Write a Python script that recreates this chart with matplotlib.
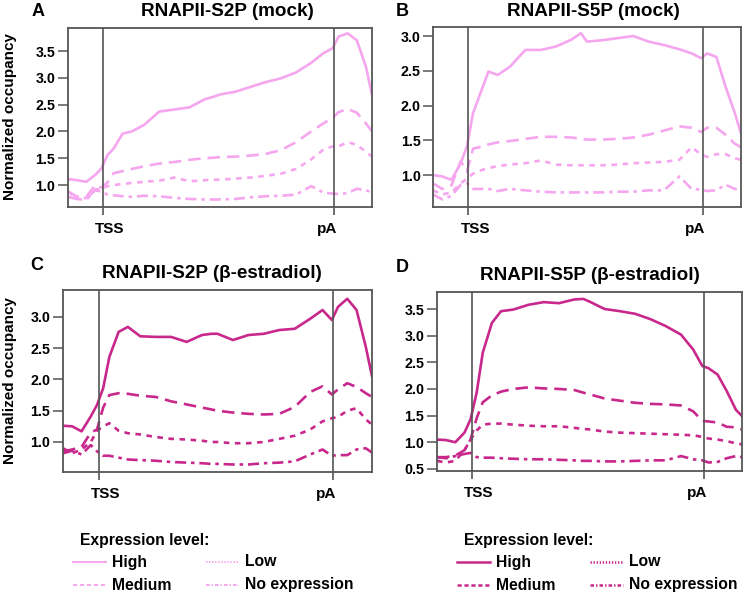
import matplotlib

matplotlib.use("Agg")
import matplotlib.pyplot as plt
from matplotlib.lines import Line2D
from matplotlib.transforms import blended_transform_factory

plt.rcParams["font.family"] = ["Liberation Sans", "DejaVu Sans"]
plt.rcParams["lines.scale_dashes"] = False

W, H = 747, 596
MOCK, ESTR = "#F5A6EE", "#C8288C"
GREY = "#555555"

# position along the metagene, in % of the plotted width
pos = [0, 3, 6, 9, 11, 13, 15, 18, 21, 25, 30, 35, 40, 45, 48, 50, 55, 60, 65, 70, 75, 80, 84, 87, 89, 92, 95, 98, 100]
TSS, PA = 11.5, 87.5
levels = ["High", "Medium", "Low", "No expression"]

# A: RNAPII-S2P (mock)
s2p_mock_high = [1.11, 1.09, 1.06, 1.19, 1.31, 1.56, 1.68, 1.96, 2.0, 2.12, 2.37, 2.41, 2.45, 2.60, 2.65, 2.69, 2.74,
                 2.83, 2.92, 2.99, 3.10, 3.28, 3.46, 3.55, 3.77, 3.83, 3.70, 3.21, 2.68]
s2p_mock_med = [0.88, 0.78, 0.78, 1.0, 0.95, 1.05, 1.22, 1.26, 1.30, 1.35, 1.40, 1.43, 1.47, 1.50, 1.51, 1.52, 1.53,
                1.55, 1.58, 1.65, 1.80, 2.0, 2.15, 2.25, 2.36, 2.42, 2.35, 2.15, 2.0]
s2p_mock_low = [0.88, 0.74, 0.72, 0.92, 0.92, 0.98, 1.0, 1.02, 1.04, 1.06, 1.08, 1.14, 1.07, 1.09, 1.10, 1.10, 1.12,
                1.14, 1.17, 1.21, 1.30, 1.48, 1.66, 1.72, 1.72, 1.80, 1.75, 1.62, 1.53]
s2p_mock_none = [0.78, 0.74, 0.76, 0.9, 0.88, 0.82, 0.81, 0.79, 0.78, 0.80, 0.79, 0.76, 0.74, 0.73, 0.73, 0.73, 0.74,
                 0.77, 0.79, 0.80, 0.82, 0.98, 0.86, 0.84, 0.83, 0.85, 0.93, 0.90, 0.87]

# B: RNAPII-S5P (mock)
s5p_mock_high = [1.0, 0.98, 0.93, 1.17, 1.41, 1.89, 2.13, 2.49, 2.44, 2.56, 2.80, 2.80, 2.85, 2.95, 3.04, 2.92, 2.94,
                 2.97, 3.0, 2.92, 2.87, 2.81, 2.75, 2.68, 2.75, 2.70, 2.27, 1.89, 1.60]
s5p_mock_med = [0.88, 0.80, 0.85, 1.20, 1.05, 1.38, 1.40, 1.44, 1.47, 1.49, 1.52, 1.55, 1.55, 1.54, 1.52, 1.51, 1.51,
                1.52, 1.54, 1.58, 1.64, 1.70, 1.68, 1.62, 1.68, 1.68, 1.58, 1.45, 1.40]
s5p_mock_low = [0.78, 0.72, 0.75, 0.88, 0.95, 1.02, 1.06, 1.10, 1.13, 1.15, 1.17, 1.21, 1.15, 1.14, 1.14, 1.14, 1.14,
                1.15, 1.17, 1.18, 1.19, 1.22, 1.40, 1.30, 1.26, 1.30, 1.30, 1.24, 1.22]
s5p_mock_none = [0.72, 0.65, 0.70, 0.86, 0.88, 0.80, 0.80, 0.80, 0.77, 0.80, 0.78, 0.76, 0.75, 0.75, 0.75, 0.75, 0.75,
                 0.76, 0.76, 0.78, 0.78, 0.98, 0.80, 0.79, 0.77, 0.78, 0.86, 0.80, 0.78]

# C: RNAPII-S2P (beta-estradiol)
s2p_estr_high = [1.26, 1.25, 1.17, 1.41, 1.59, 1.86, 2.36, 2.76, 2.84, 2.69, 2.68, 2.68, 2.60, 2.71, 2.73, 2.73, 2.63,
                 2.71, 2.73, 2.79, 2.81, 2.97, 3.11, 2.95, 3.16, 3.29, 3.11, 2.52, 2.05]
s2p_estr_med = [0.85, 0.88, 0.92, 1.15, 1.20, 1.55, 1.75, 1.78, 1.77, 1.74, 1.72, 1.65, 1.60, 1.55, 1.52, 1.50, 1.47,
                1.45, 1.44, 1.45, 1.56, 1.80, 1.89, 1.76, 1.84, 1.94, 1.88, 1.78, 1.72]
s2p_estr_low = [0.90, 0.82, 0.88, 1.0, 1.18, 1.25, 1.30, 1.18, 1.14, 1.12, 1.08, 1.05, 1.04, 1.02, 1.0, 1.0, 0.98,
                0.98, 1.0, 1.05, 1.10, 1.20, 1.33, 1.38, 1.40, 1.50, 1.54, 1.36, 1.28]
s2p_estr_none = [0.82, 0.86, 0.80, 0.95, 0.85, 0.78, 0.78, 0.75, 0.72, 0.71, 0.70, 0.68, 0.67, 0.66, 0.65, 0.65, 0.64,
                 0.64, 0.66, 0.67, 0.69, 0.80, 0.88, 0.78, 0.79, 0.79, 0.88, 0.90, 0.83]

# D: RNAPII-S5P (beta-estradiol)
s5p_estr_high = [1.05, 1.04, 1.0, 1.18, 1.43, 1.93, 2.68, 3.24, 3.46, 3.49, 3.58, 3.63, 3.61, 3.68, 3.69, 3.64, 3.50,
                 3.46, 3.41, 3.31, 3.18, 3.02, 2.74, 2.43, 2.39, 2.27, 1.96, 1.61, 1.49]
s5p_estr_med = [0.72, 0.72, 0.75, 0.85, 1.05, 1.45, 1.75, 1.88, 1.95, 2.0, 2.03, 2.01, 2.0, 1.98, 1.93, 1.90, 1.82,
                1.78, 1.74, 1.72, 1.71, 1.69, 1.58, 1.40, 1.39, 1.37, 1.29, 1.28, 1.24]
s5p_estr_low = [0.65, 0.62, 0.65, 0.85, 1.05, 1.22, 1.33, 1.35, 1.35, 1.33, 1.31, 1.30, 1.30, 1.27, 1.25, 1.24, 1.20,
                1.18, 1.17, 1.16, 1.15, 1.14, 1.13, 1.10, 1.07, 1.05, 1.02, 0.98, 0.96]
s5p_estr_none = [0.72, 0.70, 0.74, 0.78, 0.80, 0.72, 0.71, 0.71, 0.70, 0.69, 0.68, 0.68, 0.67, 0.66, 0.65, 0.65, 0.64,
                 0.64, 0.65, 0.66, 0.66, 0.74, 0.68, 0.66, 0.62, 0.63, 0.70, 0.74, 0.72]

# line style per expression level (plot, legend)
PLOT_LS = ["-", (0, (9, 5)), (0, (4, 4)), (0, (8, 3.5, 2.5, 3.5))]
KEY_LS = ["-", (0, (3, 2)), (0, (1, 1.2)), (0, (2.5, 1.5, 1, 1.5))]


def fx(x):
    return x / W


def fy(y):
    return 1 - y / H


def panel(rect, series, color, ylim, yticks, title, title_xy, letter, letter_xy):
    l, t, r, b = rect
    ax = fig.add_axes([fx(l), fy(b), (r - l) / W, (b - t) / H])
    for vals, ls in zip(series, PLOT_LS):
        ax.plot(pos, vals, color=color, lw=1.9, ls=ls, solid_capstyle="round")
    ax.set_xlim(0, 100); ax.set_ylim(*ylim)
    for xv in (TSS, PA):
        ax.axvline(xv, color=GREY, lw=1.2, zorder=3)
    ax.set_xticks([TSS, PA]); ax.set_xticklabels(["", ""])
    ax.set_yticks(yticks); ax.set_yticklabels([f"{v:.1f}" for v in yticks])
    ax.tick_params(axis="x", length=6, width=1.2, color=GREY)
    ax.tick_params(axis="y", length=7, width=1.1, color=GREY, pad=2, labelsize=10.3)
    for lab in ax.get_yticklabels():
        lab.set_fontweight("bold")
    for sp in ax.spines.values():
        sp.set_color(GREY); sp.set_linewidth(1.3)
    tr = blended_transform_factory(ax.transData, ax.transAxes)
    for xv, txt, dx in ((TSS, "TSS", 5), (PA, "pA", -5)):
        ax.annotate(txt, (xv, 0), xycoords=tr, xytext=(dx, -16), textcoords="offset points",
                    ha="center", va="center", fontsize=11, fontweight="bold")
    fig.text(fx(title_xy[0]), fy(title_xy[1]), title, ha="center", va="center", fontsize=13.6, fontweight="bold")
    fig.text(fx(letter_xy[0]), fy(letter_xy[1]), letter, ha="center", va="center", fontsize=13, fontweight="bold")
    return ax


def key(x0, color, lw):
    fig.text(fx(x0 + 7), fy(540), "Expression level:", ha="left", va="center", fontsize=11.3, fontweight="bold")
    spots = [(x0, 562), (x0, 585), (x0 + 133, 562), (x0 + 133, 585)]
    for (x, y), name, ls in zip(spots, levels, KEY_LS):
        fig.add_artist(Line2D([fx(x), fx(x + 33)], [fy(y), fy(y)], color=color, lw=lw, ls=ls,
                              transform=fig.transFigure))
        fig.text(fx(x + 39), fy(y), name, ha="left", va="center", fontsize=11.3, fontweight="bold")


fig = plt.figure(figsize=(W / 100, H / 100), dpi=100)
fig.patch.set_facecolor("white")

panel((68, 28, 372, 207), [s2p_mock_high, s2p_mock_med, s2p_mock_low, s2p_mock_none], MOCK,
      (0.59, 3.93), [1.0, 1.5, 2.0, 2.5, 3.0, 3.5], "RNAPII-S2P (mock)", (227, 12), "A", (38, 12))
panel((433, 27, 741, 207), [s5p_mock_high, s5p_mock_med, s5p_mock_low, s5p_mock_none], MOCK,
      (0.54, 3.13), [1.0, 1.5, 2.0, 2.5, 3.0], "RNAPII-S5P (mock)", (593, 12), "B", (402, 12))
panel((63, 290, 372, 472), [s2p_estr_high, s2p_estr_med, s2p_estr_low, s2p_estr_none], ESTR,
      (0.52, 3.43), [1.0, 1.5, 2.0, 2.5, 3.0], "RNAPII-S2P (β-estradiol)", (212, 273), "C", (37, 265))
panel((437, 292, 742, 471), [s5p_estr_high, s5p_estr_med, s5p_estr_low, s5p_estr_none], ESTR,
      (0.46, 3.82), [0.5, 1.0, 1.5, 2.0, 2.5, 3.0, 3.5], "RNAPII-S5P (β-estradiol)", (590, 275), "D", (402, 267))

for yc in (117, 381):
    fig.text(fx(10), fy(yc), "Normalized occupancy", rotation=90, ha="center", va="center",
             fontsize=11, fontweight="bold")

key(73, MOCK, 1.4)
key(457, ESTR, 1.8)

fig.savefig("out.png", dpi=100)
